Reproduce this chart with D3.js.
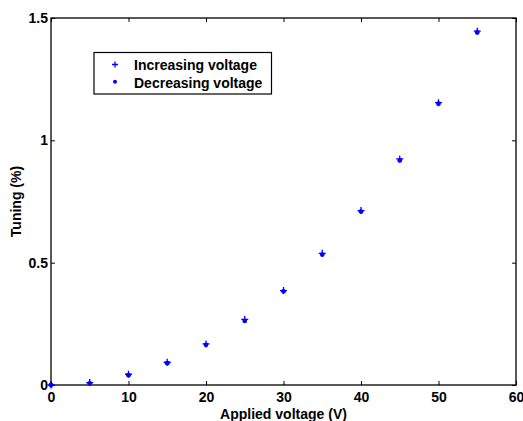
<!DOCTYPE html>
<html><head><meta charset="utf-8">
<script src="https://cdn.jsdelivr.net/npm/d3@7"></script>
<style>
body{margin:0;background:#fff;}
text{font-family:"Liberation Sans",Arial,sans-serif;font-weight:bold;fill:#000;}
</style></head>
<body><svg id="c" width="523" height="421"></svg>
<script>
const voltage = [0,5,10,15,20,25,30,35,40,45,50,55];
const increasing = [0.000,0.010,0.044,0.093,0.168,0.268,0.386,0.538,0.713,0.924,1.154,1.446];
const decreasing = [0.000,0.007,0.040,0.089,0.164,0.262,0.383,0.533,0.709,0.918,1.150,1.441];
const xTicks = [0,10,20,30,40,50,60];
const yTicks = [0,0.5,1,1.5];
const seriesNames = ["Increasing voltage","Decreasing voltage"];

const svg = d3.select("#c");
const L=51,R=516,T=18,B=385;
const x = d3.scaleLinear().domain([0,60]).range([L,R]);
const y = d3.scaleLinear().domain([0,1.5]).range([B,T]);
const blue="#0000ff";
const FS=14;

svg.append("g").attr("transform",`translate(0,${B})`)
  .call(d3.axisBottom(x).tickValues(xTicks).tickSizeInner(-4).tickSizeOuter(0).tickPadding(7).tickFormat(d3.format("d")))
  .call(g=>{g.select(".domain").remove();g.selectAll("text").attr("font-size",FS).style("font-family","Liberation Sans, Arial").style("font-weight","bold");});
svg.append("g").attr("transform",`translate(0,${T})`)
  .call(d3.axisTop(x).tickValues(xTicks).tickSizeInner(-4).tickSizeOuter(0).tickFormat(""))
  .call(g=>g.select(".domain").remove());
svg.append("g").attr("transform",`translate(${L},0)`)
  .call(d3.axisLeft(y).tickValues(yTicks).tickSizeInner(-4).tickSizeOuter(0).tickPadding(3).tickFormat(d=>d3.format("")(d)))
  .call(g=>{g.select(".domain").remove();g.selectAll("text").attr("font-size",FS).style("font-family","Liberation Sans, Arial").style("font-weight","bold");});
svg.append("g").attr("transform",`translate(${R},0)`)
  .call(d3.axisRight(y).tickValues(yTicks).tickSizeInner(-4).tickSizeOuter(0).tickFormat(""))
  .call(g=>g.select(".domain").remove());
svg.selectAll(".tick line").attr("stroke","#000");

svg.append("rect").attr("x",L).attr("y",T).attr("width",R-L).attr("height",B-T)
  .attr("fill","none").attr("stroke","#000").attr("stroke-width",1.3);

svg.append("text").attr("x",(L+R)/2).attr("y",419).attr("text-anchor","middle").attr("font-size",FS).text("Applied voltage (V)");
svg.append("text").attr("transform",`translate(21,${(T+B)/2}) rotate(-90)`).attr("text-anchor","middle").attr("font-size",FS).text("Tuning (%)");

function drawPlus(g,cx,cy,s){
  g.append("path").attr("d",`M${cx-s},${cy}H${cx+s}M${cx},${cy-s}V${cy+s}`).attr("stroke",blue).attr("stroke-width",1.3).attr("fill","none");
}
const pts = svg.append("g");
voltage.forEach((v,i)=>{
  pts.append("circle").attr("cx",x(v)).attr("cy",y(decreasing[i])).attr("r",2.4).attr("fill",blue);
});
voltage.forEach((v,i)=>{ drawPlus(pts,x(v),y(increasing[i]),3.5); });

const lg = svg.append("g");
lg.append("rect").attr("x",94).attr("y",52.5).attr("width",177.5).attr("height",41.5).attr("fill","#fff").attr("stroke","#000").attr("stroke-width",1.2);
drawPlus(lg,115,64.5,3);
lg.append("circle").attr("cx",115).attr("cy",81.8).attr("r",2).attr("fill",blue);
lg.append("text").attr("x",134).attr("y",69.5).attr("font-size",FS).text(seriesNames[0]);
lg.append("text").attr("x",134).attr("y",88).attr("font-size",FS).text(seriesNames[1]);
</script></body></html>
